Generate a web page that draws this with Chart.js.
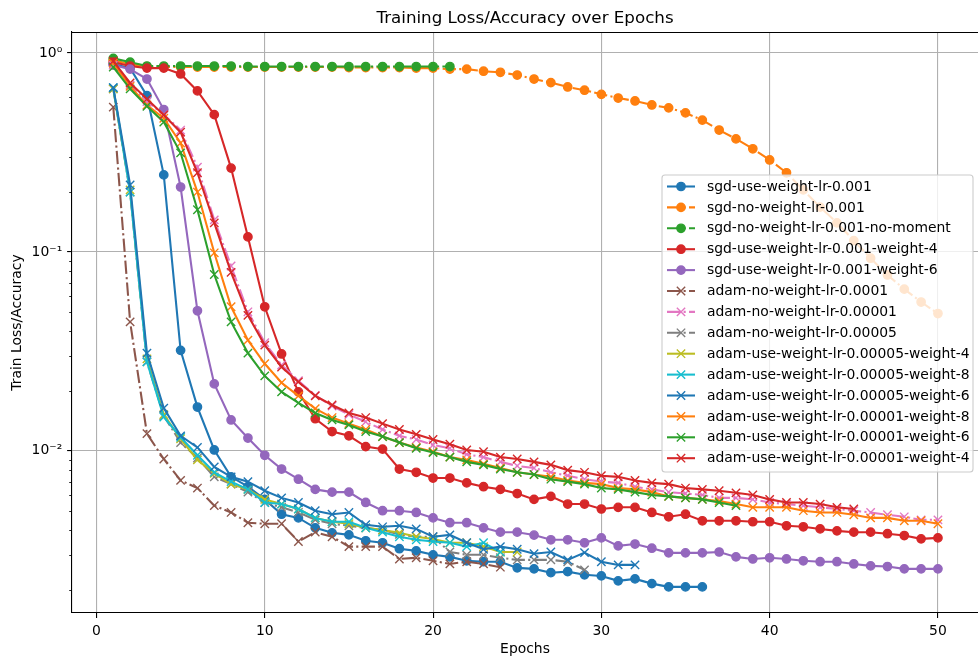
<!DOCTYPE html>
<html>
<head>
<meta charset="utf-8">
<title>Training Loss/Accuracy over Epochs</title>
<script src="https://cdn.jsdelivr.net/npm/chart.js@4.4.1/dist/chart.umd.min.js"></script>
<style>
    html, body { margin: 0; padding: 0; background: #fff; }
    #lossChart { display: block; }
</style>
</head>
<body>
<canvas id="lossChart" width="978" height="664"></canvas>
<script>
/*---------------------------------------------------------------*/
/*----------------------------- data ----------------------------*/
/*---------------------------------------------------------------*/
const epochs = [1, 2, 3, 4, 5, 6, 7, 8, 9, 10, 11, 12, 13, 14, 15, 16, 17, 18, 19, 20,
    21, 22, 23, 24, 25, 26, 27, 28, 29, 30, 31, 32, 33, 34, 35, 36, 37, 38, 39, 40,
    41, 42, 43, 44, 45, 46, 47, 48, 49, 50];

const xTicks = [0, 10, 20, 30, 40, 50];
const yMajorTicks = [1, 0.1, 0.01];
const yTickLabels = ['10\u2070', '10\u207B\u00B9', '10\u207B\u00B2'];

const sgdUseWeight = [0.88, 0.84, 0.61, 0.244, 0.032, 0.0166, 0.0101, 0.0074, 0.0066, 0.0057,
    0.0048, 0.0046, 0.0041, 0.00387, 0.00378, 0.00353, 0.00345, 0.00322, 0.00314, 0.0030,
    0.00293, 0.0028, 0.00277, 0.00277, 0.00258, 0.00255, 0.00244, 0.00247, 0.00238, 0.00235,
    0.00222, 0.00227, 0.00215, 0.00207, 0.00207, 0.00207];

const sgdNoWeight = [0.92, 0.88, 0.855, 0.85, 0.85, 0.85, 0.85, 0.85, 0.85, 0.85,
    0.85, 0.85, 0.85, 0.85, 0.845, 0.845, 0.845, 0.845, 0.84, 0.84,
    0.83, 0.83, 0.81, 0.80, 0.775, 0.74, 0.71, 0.675, 0.65, 0.62,
    0.594, 0.574, 0.548, 0.53, 0.50, 0.46, 0.41, 0.37, 0.33, 0.29,
    0.25, 0.205, 0.168, 0.14, 0.114, 0.093, 0.0766, 0.065, 0.056, 0.049];

const sgdNoMoment = [0.94, 0.90, 0.86, 0.86, 0.86, 0.86, 0.86, 0.86, 0.855, 0.855,
    0.855, 0.855, 0.855, 0.855, 0.855, 0.855, 0.855, 0.855, 0.855, 0.855, 0.855];

const sgdWeight4 = [0.90, 0.86, 0.84, 0.84, 0.785, 0.645, 0.49, 0.264, 0.119, 0.053,
    0.0307, 0.0198, 0.0145, 0.0125, 0.0119, 0.0105, 0.0102, 0.0081, 0.0078, 0.0073,
    0.0073, 0.0069, 0.0066, 0.0064, 0.0061, 0.0057, 0.0059, 0.0054, 0.0054, 0.0051,
    0.0052, 0.0052, 0.0049, 0.00466, 0.0048, 0.00445, 0.00445, 0.00445, 0.0044, 0.0044,
    0.0042, 0.00415, 0.00405, 0.00396, 0.0039, 0.0039, 0.00383, 0.00375, 0.00361, 0.00365];

const sgdWeight6 = [0.87, 0.83, 0.74, 0.52, 0.212, 0.0506, 0.0217, 0.0143, 0.0116, 0.0095,
    0.0081, 0.0072, 0.0064, 0.0062, 0.0062, 0.0055, 0.0050, 0.0050, 0.0049, 0.0046,
    0.00435, 0.00435, 0.0041, 0.0039, 0.0039, 0.00377, 0.00357, 0.00357, 0.00345, 0.00365,
    0.00333, 0.0034, 0.00324, 0.00307, 0.00307, 0.00307, 0.0031, 0.00293, 0.00286, 0.0029,
    0.00286, 0.0028, 0.00277, 0.00277, 0.0027, 0.00264, 0.00262, 0.00255, 0.00255, 0.00255];

const adamNoWeight1e4 = [0.535, 0.0445, 0.0122, 0.0091, 0.0071, 0.0065, 0.0053, 0.0049, 0.00435, 0.0043,
    0.0043, 0.0035, 0.0039, 0.0037, 0.0033, 0.0033, 0.0033, 0.00286, 0.0029, 0.0028,
    0.0027, 0.00277, 0.0027, 0.0026];

const adamNoWeight1e5 = [0.87, 0.69, 0.57, 0.49, 0.41, 0.267, 0.145, 0.085, 0.05, 0.035,
    0.027, 0.0225, 0.019, 0.0168, 0.0152, 0.014, 0.0128, 0.0119, 0.0114, 0.0107,
    0.0103, 0.0096, 0.0093, 0.0088, 0.0084, 0.0082, 0.0078, 0.0075, 0.0072, 0.007,
    0.0069, 0.0066, 0.0064, 0.0062, 0.0061, 0.006, 0.0058, 0.0058, 0.0057, 0.0055,
    0.0054, 0.0053, 0.0052, 0.0051, 0.005, 0.0049, 0.00477, 0.00466, 0.0045, 0.0045];

const adamNoWeight5e5 = [0.66, 0.2, 0.028, 0.015, 0.011, 0.0092, 0.0074, 0.0068, 0.0062, 0.0055,
    0.0052, 0.0049, 0.0045, 0.0043, 0.0042, 0.0041, 0.0040, 0.0038, 0.0037, 0.0037,
    0.0031, 0.0030, 0.0030, 0.0029, 0.00283, 0.00283, 0.00283, 0.00277, 0.00252];

const adamW4lr5e5 = [0.66, 0.205, 0.029, 0.0152, 0.0115, 0.009, 0.0077, 0.0068, 0.0064, 0.0057,
    0.0054, 0.0051, 0.0046, 0.0044, 0.0043, 0.0041, 0.004, 0.00387, 0.0037, 0.0036,
    0.00345, 0.00345, 0.0033, 0.0031, 0.0031];

const adamW8lr5e5 = [0.67, 0.2, 0.028, 0.0148, 0.0117, 0.0095, 0.0078, 0.007, 0.0064, 0.0055,
    0.0054, 0.0051, 0.0046, 0.0044, 0.0044, 0.0041, 0.0039, 0.0037, 0.00357, 0.0035,
    0.00345, 0.0033, 0.00345, 0.0031];

const adamW6lr5e5 = [0.67, 0.217, 0.031, 0.0164, 0.0119, 0.0104, 0.0083, 0.0074, 0.007, 0.0063,
    0.0058, 0.0055, 0.005, 0.0048, 0.0049, 0.00425, 0.00415, 0.0042, 0.00405, 0.0037,
    0.00378, 0.00345, 0.0032, 0.0033, 0.0032, 0.00304, 0.0031, 0.00283, 0.00308, 0.00277,
    0.00267, 0.00267];

const adamW8lr1e5 = [0.89, 0.68, 0.548, 0.47, 0.353, 0.2, 0.099, 0.053, 0.036, 0.0274,
    0.022, 0.0189, 0.0163, 0.0147, 0.0137, 0.0128, 0.0118, 0.011, 0.0104, 0.0099,
    0.0093, 0.009, 0.0086, 0.0082, 0.0078, 0.0076, 0.0074, 0.0071, 0.0069, 0.0068,
    0.0065, 0.0064, 0.0062, 0.0059, 0.0058, 0.0057, 0.0056, 0.0054, 0.0052, 0.0052,
    0.0052, 0.005, 0.0049, 0.0049, 0.00477, 0.0046, 0.0046, 0.00445, 0.00445, 0.0043];

const adamW6lr1e5 = [0.85, 0.66, 0.54, 0.45, 0.315, 0.163, 0.077, 0.0445, 0.031, 0.0238,
    0.0198, 0.0174, 0.0155, 0.0143, 0.0135, 0.0125, 0.0118, 0.011, 0.0103, 0.0098,
    0.0093, 0.0088, 0.0085, 0.0081, 0.0078, 0.0076, 0.0072, 0.007, 0.0068, 0.0065,
    0.0064, 0.0062, 0.006, 0.0059, 0.0058, 0.0057, 0.0055, 0.0053];

const adamW4lr1e5 = [0.91, 0.707, 0.587, 0.488, 0.40, 0.25, 0.14, 0.079, 0.048, 0.034,
    0.0264, 0.0222, 0.0189, 0.017, 0.0155, 0.0147, 0.0137, 0.0128, 0.0121, 0.0114,
    0.0108, 0.0101, 0.0099, 0.0093, 0.0091, 0.0088, 0.0085, 0.008, 0.0078, 0.0075,
    0.0074, 0.0071, 0.0069, 0.0068, 0.0065, 0.0064, 0.0063, 0.00615, 0.006, 0.0057,
    0.0055, 0.0055, 0.0054, 0.0052, 0.0051];

/*---------------------------------------------------------------*/
/*---------------------------- styles ---------------------------*/
/*---------------------------------------------------------------*/
const FONT = '"DejaVu Sans", "Liberation Sans", sans-serif';
const LINE_W = 2.08;                       // 1.5pt
const DASH_DOT = [13.3, 3.3, 2.1, 3.3];    // matplotlib '-.'
const C = {
    blue: '#1f77b4', orange: '#ff7f0e', green: '#2ca02c', red: '#d62728',
    purple: '#9467bd', brown: '#8c564b', pink: '#e377c2', gray: '#7f7f7f',
    olive: '#bcbd22', cyan: '#17becf'
};

function makeSet(label, values, color, marker, dashed) {
    var isDot = marker === 'o';
    return {
        label: label,
        data: values.map((v, i) => ({ x: epochs[i], y: v })),
        borderColor: color,
        backgroundColor: color,
        borderWidth: LINE_W,
        borderDash: dashed ? DASH_DOT : [],
        pointStyle: isDot ? 'circle' : 'crossRot',
        pointRadius: isDot ? 4.17 : 5.9,
        pointBorderWidth: 1.39,
        pointBorderColor: color,
        pointBackgroundColor: color,
        pointHoverRadius: isDot ? 4.17 : 5.9,
        tension: 0,
        fill: false
    };
}

const datasets = [
    makeSet('sgd-use-weight-lr-0.001', sgdUseWeight, C.blue, 'o', false),
    makeSet('sgd-no-weight-lr-0.001', sgdNoWeight, C.orange, 'o', true),
    makeSet('sgd-no-weight-lr-0.001-no-moment', sgdNoMoment, C.green, 'o', true),
    makeSet('sgd-use-weight-lr-0.001-weight-4', sgdWeight4, C.red, 'o', false),
    makeSet('sgd-use-weight-lr-0.001-weight-6', sgdWeight6, C.purple, 'o', false),
    makeSet('adam-no-weight-lr-0.0001', adamNoWeight1e4, C.brown, 'x', true),
    makeSet('adam-no-weight-lr-0.00001', adamNoWeight1e5, C.pink, 'x', true),
    makeSet('adam-no-weight-lr-0.00005', adamNoWeight5e5, C.gray, 'x', true),
    makeSet('adam-use-weight-lr-0.00005-weight-4', adamW4lr5e5, C.olive, 'x', false),
    makeSet('adam-use-weight-lr-0.00005-weight-8', adamW8lr5e5, C.cyan, 'x', false),
    makeSet('adam-use-weight-lr-0.00005-weight-6', adamW6lr5e5, C.blue, 'x', false),
    makeSet('adam-use-weight-lr-0.00001-weight-8', adamW8lr1e5, C.orange, 'x', false),
    makeSet('adam-use-weight-lr-0.00001-weight-6', adamW6lr1e5, C.green, 'x', false),
    makeSet('adam-use-weight-lr-0.00001-weight-4', adamW4lr1e5, C.red, 'x', false)
];
// later series on top, like matplotlib
datasets.forEach((ds, i) => { ds.order = datasets.length - i; });

/*---------------------------------------------------------------*/
/*------------------ spines, minor ticks, legend ----------------*/
/*---------------------------------------------------------------*/
function drawMarker(ctx, ds, x, y) {
    ctx.save();
    ctx.setLineDash([]);
    ctx.fillStyle = ds.pointBackgroundColor;
    ctx.strokeStyle = ds.pointBorderColor;
    ctx.lineWidth = ds.pointBorderWidth;
    if (ds.pointStyle === 'circle') {
        ctx.beginPath();
        ctx.arc(x, y, ds.pointRadius, 0, Math.PI * 2);
        ctx.fill();
        ctx.stroke();
    } else {
        var h = ds.pointRadius * Math.SQRT1_2;
        ctx.beginPath();
        ctx.moveTo(x - h, y - h); ctx.lineTo(x + h, y + h);
        ctx.moveTo(x - h, y + h); ctx.lineTo(x + h, y - h);
        ctx.stroke();
    }
    ctx.restore();
}

function roundRect(ctx, x, y, w, h, r) {
    ctx.beginPath();
    ctx.moveTo(x + r, y);
    ctx.lineTo(x + w - r, y); ctx.arcTo(x + w, y, x + w, y + r, r);
    ctx.lineTo(x + w, y + h - r); ctx.arcTo(x + w, y + h, x + w - r, y + h, r);
    ctx.lineTo(x + r, y + h); ctx.arcTo(x, y + h, x, y + h - r, r);
    ctx.lineTo(x, y + r); ctx.arcTo(x, y, x + r, y, r);
    ctx.closePath();
}

const mplDecor = {
    id: 'mplDecor',
    beforeDraw(chart) {
        var ctx = chart.ctx;
        ctx.save();
        ctx.fillStyle = '#ffffff';
        ctx.fillRect(0, 0, chart.width, chart.height);
        ctx.restore();
    },
    afterDraw(chart) {
        var ctx = chart.ctx;
        var area = chart.chartArea;
        var yScale = chart.scales.y;
        ctx.save();

        // top / right spines
        ctx.strokeStyle = '#000';
        ctx.lineWidth = 1.1;
        ctx.beginPath();
        ctx.moveTo(area.left, area.top + 0.5);
        ctx.lineTo(area.right, area.top + 0.5);
        ctx.moveTo(area.right + 1, area.top);
        ctx.lineTo(area.right + 1, area.bottom);
        ctx.stroke();

        // minor log ticks
        ctx.lineWidth = 0.84;
        ctx.beginPath();
        [0.001, 0.01, 0.1].forEach(dec => {
            for (var k = 2; k <= 9; k++) {
                var v = k * dec;
                if (v < yScale.min || v > yScale.max) continue;
                var py = Math.round(yScale.getPixelForValue(v)) + 0.5;
                ctx.moveTo(area.left - 2.8, py);
                ctx.lineTo(area.left, py);
            }
        });
        ctx.stroke();

        // legend
        var box = { x: 662, y: 175, w: 311, h: 297 };
        ctx.fillStyle = 'rgba(255,255,255,0.8)';
        ctx.strokeStyle = '#cccccc';
        ctx.lineWidth = 1.1;
        roundRect(ctx, box.x, box.y, box.w, box.h, 3);
        ctx.fill();
        ctx.stroke();

        ctx.font = '13.9px ' + FONT;
        ctx.textBaseline = 'middle';
        ctx.textAlign = 'left';
        chart.data.datasets.forEach((ds, i) => {
            var ry = 186.5 + i * 20.9;
            ctx.save();
            ctx.strokeStyle = ds.borderColor;
            ctx.lineWidth = ds.borderWidth;
            ctx.setLineDash(ds.borderDash);
            ctx.beginPath();
            ctx.moveTo(667, ry);
            ctx.lineTo(695, ry);
            ctx.stroke();
            ctx.restore();
            drawMarker(ctx, ds, 681, ry);
            ctx.fillStyle = '#000';
            ctx.fillText(ds.label, 707, ry + 0.5);
        });
        ctx.restore();
    }
};

/*---------------------------------------------------------------*/
/*----------------------------- chart ---------------------------*/
/*---------------------------------------------------------------*/
const tickFont = { family: FONT, size: 13.9 };

const config = {
    type: 'line',
    data: { datasets: datasets },
    options: {
        responsive: false,
        animation: false,
        events: [],
        layout: { autoPadding: false, padding: { left: 0, right: 0, top: 0, bottom: 0 } },
        plugins: {
            legend: { display: false },
            tooltip: { enabled: false },
            title: {
                display: true,
                fullSize: false,
                text: 'Training Loss/Accuracy over Epochs',
                color: '#000',
                font: { family: FONT, size: 16.7, weight: 'normal', lineHeight: 1.2 },
                padding: { top: 9, bottom: 3 }
            }
        },
        scales: {
            x: {
                type: 'linear',
                min: -1.453,
                max: 52.38,
                afterBuildTicks: s => { s.ticks = xTicks.map(v => ({ value: v })); },
                afterFit: s => { s.height = 51; },
                ticks: { font: tickFont, color: '#000', padding: 4.9, maxRotation: 0,
                    callback: v => String(v) },
                grid: { color: '#b0b0b0', lineWidth: 1.1, tickColor: '#000',
                    tickLength: 4.9, tickWidth: 1.1 },
                border: { color: '#000', width: 1.1 },
                title: { display: true, text: 'Epochs', color: '#000', font: tickFont,
                    padding: { top: 0, bottom: 6.5 } }
            },
            y: {
                type: 'logarithmic',
                min: 0.00153,
                max: 1.275,
                afterBuildTicks: s => { s.ticks = yMajorTicks.map(v => ({ value: v })); },
                afterFit: s => { s.width = 72; },
                ticks: { font: tickFont, color: '#000', padding: 4.9,
                    callback: (v, i) => yTickLabels[i] },
                grid: { color: '#b0b0b0', lineWidth: 1.1, tickColor: '#000',
                    tickLength: 4.9, tickWidth: 1.1 },
                border: { color: '#000', width: 1.1 },
                title: { display: true, text: 'Train Loss/Accuracy', color: '#000', font: tickFont,
                    padding: { top: 9, bottom: 0 } }
            }
        }
    },
    plugins: [mplDecor]
};

new Chart(document.getElementById('lossChart'), config);
</script>
</body>
</html>
